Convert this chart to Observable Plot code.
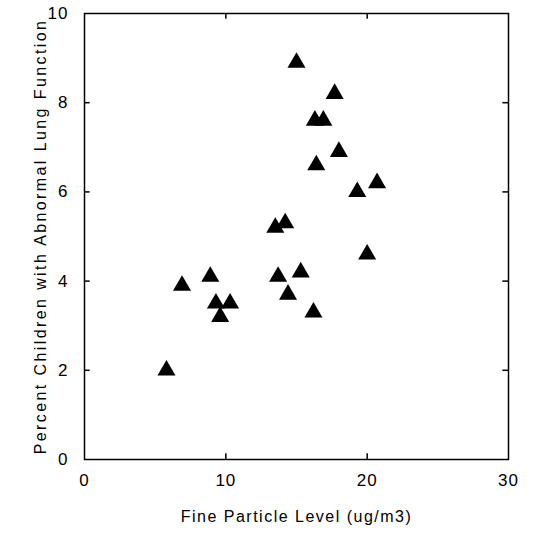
<!DOCTYPE html>
<html>
<head>
<meta charset="utf-8">
<script src="https://cdn.jsdelivr.net/npm/d3@7"></script>
<script src="https://cdn.jsdelivr.net/npm/@observablehq/plot@0.6"></script>
<style>
  html, body { margin: 0; padding: 0; background: #fff; }
  svg { display: block; }
</style>
</head>
<body>
<div id="chart"></div>
<script>
// Fine particle level (ug/m3)
const particle = [5.8, 6.9, 8.9, 9.3, 9.6, 10.3, 13.7, 14.4, 15.3, 16.2,
                  15.0, 17.7, 16.3, 16.9, 18.0, 16.4, 19.3, 20.7, 13.5, 14.2, 20.0];
// Percent children with abnormal lung function
const percent  = [2.0, 3.9, 4.1, 3.5, 3.2, 3.5, 4.1, 3.7, 4.2, 3.3,
                  8.9, 8.2, 7.6, 7.6, 6.9, 6.6, 6.0, 6.2, 5.2, 5.3, 4.6];
const xTicks = [0, 10, 20, 30];
const yTicks = [0, 2, 4, 6, 8, 10];
const xInnerTicks = [10, 20];
const yInnerTicks = [2, 4, 6, 8];

const data = particle.map((x, i) => ({x, y: percent[i]}));
const font = "'Liberation Sans', Arial, Helvetica, sans-serif";

const chart = Plot.plot({
  width: 543,
  height: 539,
  marginLeft: 84,
  marginRight: 35,
  marginTop: 13,
  marginBottom: 80,
  style: {fontFamily: font, fontSize: "16px", color: "#000", background: "#fff"},
  x: {domain: [0, 30], ticks: xTicks},
  y: {domain: [0, 10], ticks: yTicks},
  marks: [
    Plot.frame({stroke: "#000", strokeWidth: 1.5}),
    Plot.axisX({ticks: xTicks, tickSize: 0, tickPadding: 14, fontSize: 17, label: null, className: "ticklab"}),
    Plot.axisY({ticks: yTicks, tickSize: 0, tickPadding: 16, fontSize: 17, label: null, className: "ticklab"}),
    // inward ticks
    Plot.ruleY(yInnerTicks, {x1: 0, x2: 0.4, stroke: "#000", strokeWidth: 1.5}),
    Plot.ruleY(yInnerTicks, {x1: 29.6, x2: 30, stroke: "#000", strokeWidth: 1.5}),
    Plot.ruleX(xInnerTicks, {y1: 0, y2: 0.13, stroke: "#000", strokeWidth: 1.5}),
    Plot.ruleX(xInnerTicks, {y1: 9.87, y2: 10, stroke: "#000", strokeWidth: 1.5}),
    Plot.dot(data, {x: "x", y: "y", symbol: "triangle", fill: "#000", stroke: "none", r: 6.7}),
    Plot.text(["Fine Particle Level (ug/m3)"], {frameAnchor: "bottom", textAnchor: "middle", dy: 62, fontSize: 16, fill: "#000", text: d => d, className: "xlab"}),
    Plot.text(["Percent Children with Abnormal Lung Function"], {frameAnchor: "left", textAnchor: "middle", dx: -44, rotate: -90, fontSize: 16, fill: "#000", text: d => d, className: "ylab"})
  ]
});
d3.select(chart).selectAll(".xlab text").attr("letter-spacing", "1.5px");
d3.select(chart).selectAll(".ylab text").attr("letter-spacing", "2.4px");
d3.select(chart).selectAll(".ticklab text").attr("letter-spacing", "1px");
document.getElementById("chart").appendChild(chart);
</script>
</body>
</html>
